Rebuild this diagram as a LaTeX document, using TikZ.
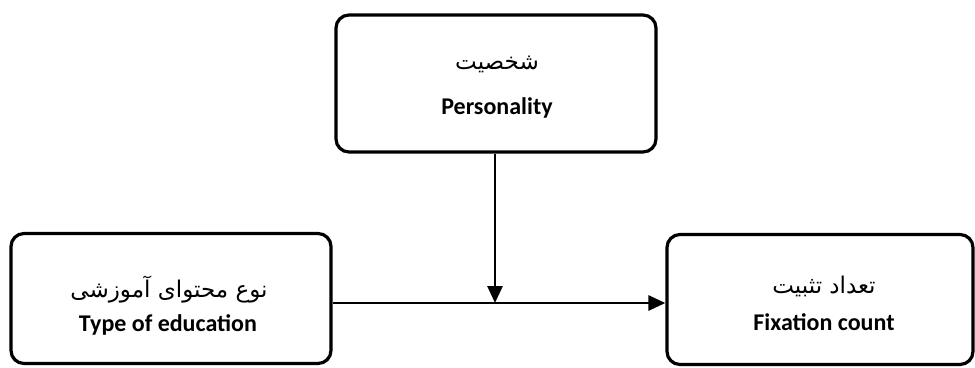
\documentclass[tikz,border=0pt]{standalone}
\usepackage{fontspec}
\setmainfont{Carlito}
\newfontfamily\arabicfont[Script=Arabic]{DejaVu Sans}
\TeXXeTstate=1
\usetikzlibrary{arrows.meta}
\tikzset{
  boxstyle/.style={draw=black, line width=3.2pt, rounded corners=13pt, fill=white, inner sep=0pt},
  entext/.style={font=\bfseries\fontsize{24}{28}\selectfont, inner sep=0pt},
  fatext/.style={font=\arabicfont\fontsize{23}{26}\selectfont, inner sep=0pt},
  conn/.style={line width=2.8pt, -{Triangle[length=17pt,width=15pt]}},
}
\begin{document}
\begin{tikzpicture}[x=1pt,y=-1pt]
\useasboundingbox (0,0) rectangle (975,367);
% boxes
\node[boxstyle, minimum width=320pt, minimum height=137pt] (top) at (496,83.5) {};
\node[boxstyle, minimum width=320pt, minimum height=130pt] (left) at (171,298.5) {};
\node[boxstyle, minimum width=306pt, minimum height=130pt] (right) at (820,299.5) {};
% texts
\node[fatext] (topfa) at (497,64) {\beginR شخصیت\endR};
\node[entext] (topen) at (497,108) {Personality};
\node[fatext] (leftfa) at (169,290) {\beginR نوع محتوای آموزشی\endR};
\node[entext] (leften) at (168,325) {Type of education};
\node[fatext] (rightfa) at (824,286) {\beginR تعداد تثبیت\endR};
\node[entext] (righten) at (824,322) {Fixation count};
% connectors
\coordinate (j) at (495,303);
\draw[conn] (top.south -| j) -- (j);
\draw[conn] (left.east |- j) -- (right.west |- j);
\end{tikzpicture}
\end{document}
